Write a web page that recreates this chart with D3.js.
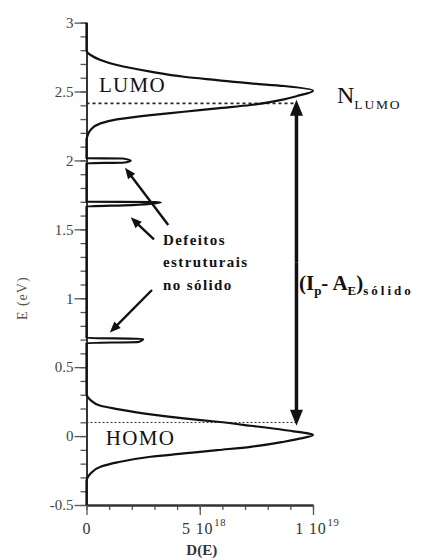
<!DOCTYPE html>
<html>
<head>
<meta charset="utf-8">
<script src="https://cdn.jsdelivr.net/npm/d3@7"></script>
<style>
  body { margin: 0; background: #fff; }
  svg { display: block; }
</style>
</head>
<body>
<svg id="chart" width="428" height="560"></svg>
<script>
// Density of states D(E) of the solid: energy runs up the vertical axis,
// the density of states runs along the horizontal axis.

// Energy samples of the D(E) trace (eV), from the top of the scale downwards
const energy = [
  3.00, 2.80, 2.765, 2.729, 2.692, 2.644, 2.607, 2.583, 2.559, 2.540, 2.506,
  2.467, 2.443, 2.402, 2.378, 2.353, 2.329, 2.298, 2.269, 2.221, 2.172, 2.15,
  2.016, 2.014, 1.998, 1.983, 1.980,
  1.701, 1.698, 1.694, 1.676, 1.666,
  0.711, 0.706, 0.683, 0.675,
  0.330, 0.310, 0.261, 0.220, 0.196, 0.157, 0.128, 0.104, 0.075, 0.044, 0.007,
  -0.022, -0.041, -0.078, -0.102, -0.126, -0.150, -0.191, -0.223, -0.271, -0.332, -0.50
];
// Density of states at those energies
const density = [
  0, 0, 0.18e18, 0.62e18, 1.34e18, 2.83e18, 4.30e18, 5.76e18, 7.25e18, 8.72e18, 10.0e18,
  9.29e18, 8.72e18, 7.25e18, 5.76e18, 4.30e18, 2.83e18, 1.34e18, 0.62e18, 0.18e18, 0.03e18, 0,
  0, 1.60e18, 1.95e18, 1.60e18, 0,
  0, 3.00e18, 3.28e18, 2.00e18, 0,
  0, 2.50e18, 2.30e18, 0,
  0, 0, 0.18e18, 0.62e18, 1.36e18, 2.83e18, 4.30e18, 5.77e18, 7.25e18, 8.72e18, 10.0e18,
  9.31e18, 8.72e18, 7.25e18, 5.77e18, 4.30e18, 2.83e18, 1.36e18, 0.62e18, 0.18e18, 0, 0
];

// Axis ticks
const yMajorTicks = [-0.5, 0, 0.5, 1, 1.5, 2, 2.5, 3];
const yTickLabels = ["-0.5", "0", "0.5", "1", "1.5", "2", "2.5", "3"];
const xMajorTicks = [0, 5e18, 1e19];
const xTickMantissa = ["0", "5 10", "1 10"];
const xTickExponent = ["", "18", "19"];

// HOMO / LUMO reference levels (eV) and the gap they bound
const levelEnergies = [2.414, 0.099];
const gapEnds = [2.44, 0.075];

const W = 428, H = 560;
const m = { top: 22.6, right: 115, bottom: 55, left: 86.5 };
const serif = "'Liberation Serif', 'DejaVu Serif', serif";

const svg = d3.select("#chart");
svg.append("rect").attr("width", W).attr("height", H).attr("fill", "#fff");

const x = d3.scaleLinear().domain([0, 1e19]).range([m.left, W - m.right]);
const y = d3.scaleLinear().domain([-0.5, 3]).range([H - m.bottom, m.top]);

// ---- axes ----
const yMinor = d3.range(-5, 31).map(i => i / 10);
const xMinor = d3.range(0, 11).map(i => i * 1e18);

const gyMinor = svg.append("g").attr("transform", `translate(${m.left},0)`)
  .call(d3.axisLeft(y).tickValues(yMinor).tickSize(6).tickSizeOuter(0).tickFormat(""));
const gyMajor = svg.append("g").attr("transform", `translate(${m.left},0)`)
  .call(d3.axisLeft(y).tickValues(yMajorTicks).tickSize(12).tickSizeOuter(0).tickPadding(1)
    .tickFormat((d, i) => yTickLabels[i]));
const gxMinor = svg.append("g").attr("transform", `translate(0,${y(-0.5)})`)
  .call(d3.axisBottom(x).tickValues(xMinor).tickSize(5).tickSizeOuter(0).tickFormat(""));
const gxMajor = svg.append("g").attr("transform", `translate(0,${y(-0.5)})`)
  .call(d3.axisBottom(x).tickValues(xMajorTicks).tickSize(10).tickSizeOuter(0).tickFormat(""));

[gyMinor, gyMajor, gxMinor, gxMajor].forEach(g => {
  g.select(".domain").attr("stroke", "#333").attr("stroke-width", 1.8);
  g.selectAll(".tick line").attr("stroke", "#555").attr("stroke-width", 1.3);
});
gyMajor.selectAll(".tick text")
  .attr("font-family", serif).attr("font-size", 15).attr("fill", "#444");

// x tick labels: mantissa with a raised power of ten
gxMajor.selectAll(".tick").each(function (d, i) {
  const t = d3.select(this).append("text")
    .attr("y", 29).attr("x", xTickExponent[i] ? 4 : 0)
    .attr("text-anchor", "middle")
    .attr("font-family", serif).attr("font-size", 16).attr("fill", "#333")
    .attr("letter-spacing", 0.8);
  t.append("tspan").text(xTickMantissa[i]);
  if (xTickExponent[i]) {
    t.append("tspan").attr("font-size", 10.5).attr("dy", -8).attr("dx", 1).text(xTickExponent[i]);
  }
});

// axis titles
svg.append("text")
  .attr("x", x(5e18) + 2).attr("y", 555)
  .attr("text-anchor", "middle")
  .attr("font-family", serif).attr("font-size", 15).attr("font-weight", "bold").attr("fill", "#333")
  .text("D(E)");
svg.append("text")
  .attr("transform", `translate(27,${y(1.0)}) rotate(-90)`)
  .attr("text-anchor", "middle")
  .attr("font-family", serif).attr("font-size", 14).attr("fill", "#555").attr("letter-spacing", 1)
  .text("E (eV)");

// ---- HOMO / LUMO level lines ----
svg.append("line")
  .attr("x1", x(0)).attr("x2", x(9.3e18))
  .attr("y1", y(levelEnergies[0])).attr("y2", y(levelEnergies[0]))
  .attr("stroke", "#222").attr("stroke-width", 1.6).attr("stroke-dasharray", "3,3");
svg.append("line")
  .attr("x1", x(0)).attr("x2", x(9.3e18))
  .attr("y1", y(levelEnergies[1])).attr("y2", y(levelEnergies[1]))
  .attr("stroke", "#333").attr("stroke-width", 1).attr("stroke-dasharray", "2,2");

// ---- D(E) trace ----
const pts = energy.map((e, i) => ({ E: e, D: density[i] }));
svg.append("path")
  .datum(pts)
  .attr("fill", "none")
  .attr("stroke", "#111")
  .attr("stroke-width", 2.2)
  .attr("stroke-linejoin", "round")
  .attr("d", d3.line().x(d => x(d.D)).y(d => y(d.E)).curve(d3.curveMonotoneY));

// ---- arrows ----
function arrow(x1, y1, x2, y2, width, headLen, headW) {
  const dx = x2 - x1, dy = y2 - y1, L = Math.hypot(dx, dy);
  const ux = dx / L, uy = dy / L;
  const bx = x2 - ux * headLen, by = y2 - uy * headLen;
  svg.append("line")
    .attr("x1", x1).attr("y1", y1).attr("x2", bx + ux * 2).attr("y2", by + uy * 2)
    .attr("stroke", "#111").attr("stroke-width", width);
  svg.append("path")
    .attr("d", `M${x2},${y2}L${bx - uy * headW / 2},${by + ux * headW / 2}L${bx + uy * headW / 2},${by - ux * headW / 2}Z`)
    .attr("fill", "#111");
}
// band gap double arrow
const gx = x(9.27e18);
arrow(gx, (y(gapEnds[0]) + y(gapEnds[1])) / 2, gx, y(gapEnds[0]), 3.5, 16, 13);
arrow(gx, (y(gapEnds[0]) + y(gapEnds[1])) / 2, gx, y(gapEnds[1]), 3.5, 16, 13);

// arrows to the structural defect states
arrow(x(3.61e18), y(1.531), x(1.70e18), y(1.947), 2.4, 11, 9);
arrow(x(2.98e18), y(1.427), x(1.95e18), y(1.587), 2.4, 11, 9);
arrow(x(2.89e18), y(1.060), x(1.03e18), y(0.751), 2.4, 11, 9);

// ---- labels ----
svg.append("text")
  .attr("x", x(0.55e18)).attr("y", y(2.496))
  .attr("font-family", serif).attr("font-size", 21).attr("letter-spacing", 1.3).attr("fill", "#111")
  .text("LUMO");
svg.append("text")
  .attr("x", x(0.85e18)).attr("y", y(-0.065))
  .attr("font-family", serif).attr("font-size", 21).attr("letter-spacing", 1.3).attr("fill", "#111")
  .text("HOMO");

const nl = svg.append("text")
  .attr("x", x(11.06e18)).attr("y", y(2.414))
  .attr("font-family", serif).attr("fill", "#111");
nl.append("tspan").attr("font-size", 24).text("N");
nl.append("tspan").attr("font-size", 13.5).attr("dy", 6).attr("letter-spacing", 1.8).text("LUMO");

const gapLabel = svg.append("text")
  .attr("x", x(9.38e18)).attr("y", y(1.06))
  .attr("font-family", serif).attr("font-weight", "bold").attr("fill", "#111");
gapLabel.append("tspan").attr("font-size", 21).text("(I");
gapLabel.append("tspan").attr("font-size", 13).attr("dy", 5).text("p");
gapLabel.append("tspan").attr("font-size", 21).attr("dy", -5).text("- A");
gapLabel.append("tspan").attr("font-size", 13).attr("dy", 5).text("E");
gapLabel.append("tspan").attr("font-size", 21).attr("dy", -5).text(")");
gapLabel.append("tspan").attr("font-size", 13).attr("dy", 5).attr("letter-spacing", 3).text("sólido");

const defectLines = ["Defeitos", "estruturais", "no sólido"];
const defectBase = [1.386, 1.226, 1.060];
defectLines.forEach((s, i) => {
  svg.append("text")
    .attr("x", x(3.38e18)).attr("y", y(defectBase[i]))
    .attr("font-family", serif).attr("font-weight", "bold").attr("font-size", 15)
    .attr("letter-spacing", 1.4).attr("fill", "#111")
    .text(s);
});
</script>
</body>
</html>
